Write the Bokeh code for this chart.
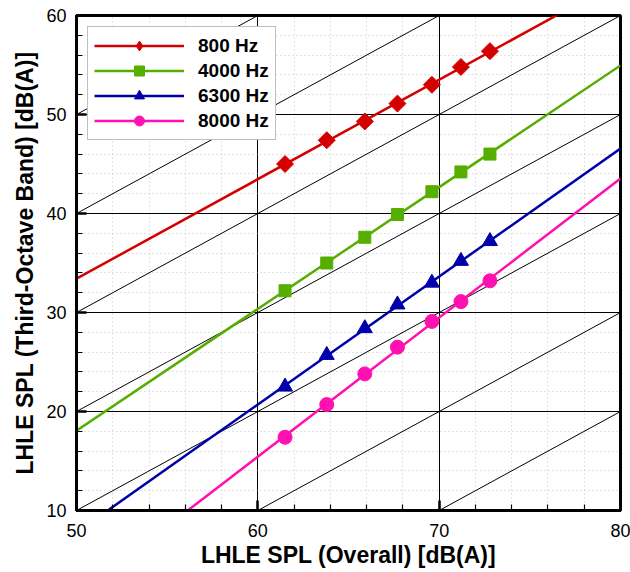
import numpy as np
from bokeh.plotting import figure
from bokeh.models import SingleIntervalTicker, Range1d, Legend, LegendItem
from bokeh.embed import file_html
from bokeh.resources import INLINE

# ---- data ----
overall = [61.5, 63.8, 65.9, 67.7, 69.6, 71.2, 72.8]
spl_800 = [45.0, 47.4, 49.3, 51.1, 53.0, 54.8, 56.4]
spl_4000 = [32.2, 35.0, 37.6, 39.9, 42.2, 44.2, 46.0]
spl_6300 = [22.5, 25.7, 28.4, 30.8, 33.0, 35.2, 37.2]
spl_8000 = [17.4, 20.7, 23.8, 26.5, 29.1, 31.1, 33.2]
labels = ["800 Hz", "4000 Hz", "6300 Hz", "8000 Hz"]
diag_offsets = [-60, -50, -40, -30, -20, -10, 0, 10]
x_lim = [50, 80]
y_lim = [10, 60]

colors = ["#d40000", "#56ae00", "#0000aa", "#ff10b0"]
# (plot marker, size, angle, legend marker)
markers = [("square", 12, np.pi / 4, "diamond"),
           ("square", 12, 0.0, "square"),
           ("triangle", 15, 0.0, "triangle"),
           ("circle", 14, 0.0, "circle")]
series = [spl_800, spl_4000, spl_6300, spl_8000]

FONT = "Liberation Sans"

p = figure(width=630, height=572,
           x_range=Range1d(*x_lim), y_range=Range1d(*y_lim),
           output_backend="svg", toolbar_location=None,
           min_border_left=76, min_border_right=10, min_border_top=15, min_border_bottom=62,
           x_axis_label="LHLE SPL (Overall) [dB(A)]",
           y_axis_label="LHLE SPL (Third-Octave Band) [dB(A)]")
p.background_fill_color = "white"
p.border_fill_color = "white"
p.outline_line_color = "black"
p.outline_line_width = 3
p.outline_line_alpha = 1

xt = SingleIntervalTicker(interval=10, num_minor_ticks=5)
yt = SingleIntervalTicker(interval=10, num_minor_ticks=5)
p.xaxis.ticker = xt
p.yaxis.ticker = yt
p.xgrid.ticker = xt
p.ygrid.ticker = yt

for g in (p.xgrid, p.ygrid):
    g.grid_line_color = "black"
    g.grid_line_width = 1
    g.grid_line_alpha = 1
    g.minor_grid_line_color = "#c8c8c8"
    g.minor_grid_line_dash = "1 3"
    g.minor_grid_line_width = 1

for ax in (p.xaxis, p.yaxis):
    ax.axis_line_width = 3
    ax.axis_line_color = "black"
    ax.major_tick_in = 10
    ax.major_tick_out = 0
    ax.minor_tick_in = 6
    ax.minor_tick_out = 0
    ax.major_tick_line_width = 2.5
    ax.minor_tick_line_width = 1.2
    ax.major_tick_line_color = "black"
    ax.minor_tick_line_color = "black"
    ax.major_label_text_font = FONT
    ax.major_label_text_font_size = "18px"
    ax.major_label_text_color = "black"
    ax.axis_label_text_font = FONT
    ax.axis_label_text_font_size = "23px"
    ax.axis_label_text_font_style = "bold"
    ax.axis_label_text_color = "black"

p.xaxis.major_label_standoff = 13
p.xaxis.axis_label_standoff = 2
p.yaxis.major_label_standoff = 10
p.yaxis.axis_label_standoff = 5

# diagonal reference lines y = x + c
for c in diag_offsets:
    p.line(x_lim, [x_lim[0] + c, x_lim[1] + c], line_color="black", line_width=1)

items = []
for ys, col, (mk, sz, ang, lmk), lab in zip(series, colors, markers, labels):
    coef = np.polyfit(overall, ys, 1)
    fx = np.array(x_lim, dtype=float)
    fy = np.polyval(coef, fx)
    rl = p.line(fx, fy, line_color=col, line_width=2.5)
    if lmk != mk:
        # diamond glyph (drawn underneath the rotated squares) used for the legend
        rproxy = p.scatter(overall, ys, marker=lmk, size=sz,
                           fill_color=col, line_color=col, line_width=1)
        p.scatter(overall, ys, marker=mk, size=sz, angle=ang,
                  fill_color=col, line_color=col, line_width=1)
        items.append(LegendItem(label=lab, renderers=[rl, rproxy]))
    else:
        rm = p.scatter(overall, ys, marker=mk, size=sz, angle=ang,
                       fill_color=col, line_color=col, line_width=1)
        items.append(LegendItem(label=lab, renderers=[rl, rm]))

legend = Legend(items=items, location="top_left")
legend.glyph_width = 90
legend.glyph_height = 25
legend.spacing = 0
legend.label_standoff = 14
legend.padding = 6
legend.margin = 11
legend.label_text_font = FONT
legend.label_text_font_size = "19px"
legend.label_text_font_style = "bold"
legend.label_text_color = "black"
legend.label_height = 20
legend.border_line_color = "#808080"
legend.border_line_width = 1.5
legend.background_fill_color = "white"
legend.background_fill_alpha = 1
p.add_layout(legend)

open("out.html", "w").write(file_html(p, INLINE))
